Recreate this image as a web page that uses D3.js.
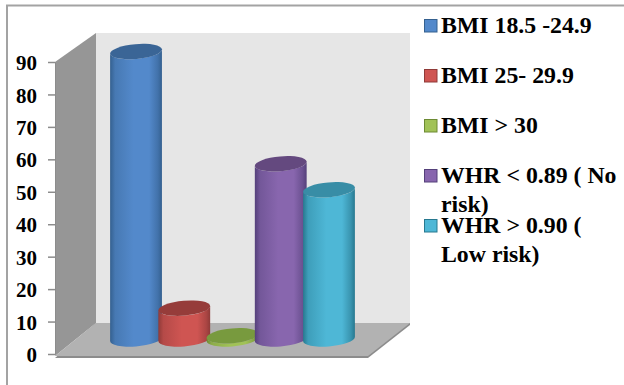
<!DOCTYPE html>
<html>
<head>
<meta charset="utf-8">
<script src="https://cdn.jsdelivr.net/npm/d3@7/dist/d3.min.js"></script>
<style>
html,body{margin:0;padding:0;background:#fff}
svg{display:block}
text{font-family:"Liberation Serif",serif;font-weight:bold;fill:#000}
</style>
</head>
<body>
<svg id="chart" width="624" height="385"></svg>
<script>
// Chart data
const categories = ["BMI 18.5 -24.9", "BMI 25- 29.9", "BMI > 30", "WHR < 0.89 ( No risk)", "WHR > 0.90 ( Low risk)"];
const values = [88.6, 9.5, 1, 54, 46];
const tickValues = [0, 10, 20, 30, 40, 50, 60, 70, 80, 90];
const legendLines = [["BMI 18.5 -24.9"], ["BMI 25- 29.9"], ["BMI > 30"], ["WHR < 0.89 ( No", "risk)"], ["WHR > 0.90 (", "Low risk)"]];
const sideColors = ["#34608f", "#8f3a38", "#6c8a33", "#54407a", "#27788f"];
const midColors = ["#5389cb", "#cf5552", "#a1c257", "#8866ae", "#4eb7d6"];
const capColors = ["#3a6596", "#963c3a", "#789a3e", "#64497f", "#388da6"];

const svg = d3.select("#chart");

// Scales: the value axis runs along the front edge of the left wall
const y = d3.scaleLinear().domain([0, 90]).range([354, 62]);
const x = d3.scaleBand().domain(categories).range([111.9, 353.1]).padding(0);

// Room geometry
const wallLeft = 55, wallBack = 96, roofBack = 33, floorFront = 356, floorBack = 323, floorRight = 410, floorFrontRight = 368;
const poly = pts => pts.map(p => p.join(",")).join(" ");

// Picture frame
svg.append("path").attr("d", "M7,385V5.5H624").attr("fill", "none").attr("stroke", "#a3a3a3").attr("stroke-width", 2);

// Back wall, left wall, floor
svg.append("polygon").attr("points", poly([[wallBack, roofBack], [floorRight, roofBack], [floorRight, floorBack], [wallBack, floorBack]])).attr("fill", "#e6e6e6");
svg.append("polygon").attr("points", poly([[wallLeft, y(90)], [wallBack, roofBack], [wallBack, floorBack], [wallLeft, floorFront]])).attr("fill", "#969696");
svg.append("polygon").attr("points", poly([[wallLeft, floorFront + 2], [floorFrontRight, floorFront + 2], [floorRight, floorBack + 2], [floorRight, floorBack], [wallBack, floorBack]])).attr("fill", "#8c8c8c");
svg.append("polygon").attr("points", poly([[wallLeft, floorFront], [floorFrontRight, floorFront], [floorRight, floorBack], [wallBack, floorBack]])).attr("fill", "#b2b2b2");

// Value axis
const axis = d3.axisLeft(y).tickValues(tickValues).tickSize(7).tickSizeOuter(0).tickPadding(11);
const axisG = svg.append("g").attr("transform", `translate(${wallLeft},0)`).call(axis);
axisG.select(".domain").attr("stroke", "#8c8c8c");
axisG.selectAll(".tick line").attr("stroke", "#8c8c8c").attr("stroke-width", 1.5);
axisG.selectAll(".tick text").style("font-size", "21px").attr("dy", "0.36em").attr("fill", "#000").attr("font-family", null);

// Shading across each cylinder
const defs = svg.append("defs");
categories.forEach((c, i) => {
  const cx = x(c) + x.bandwidth() / 2;
  const g = defs.append("linearGradient").attr("id", "cyl" + i)
    .attr("gradientUnits", "userSpaceOnUse")
    .attr("x1", cx - 26).attr("x2", cx + 26).attr("y1", 0).attr("y2", 0);
  [[0, sideColors[i]], [0.1, d3.interpolateRgb(sideColors[i], midColors[i])(0.6)], [0.45, midColors[i]], [0.75, midColors[i]], [0.92, d3.interpolateRgb(sideColors[i], midColors[i])(0.45)], [1, sideColors[i]]]
    .forEach(([o, col]) => g.append("stop").attr("offset", o).attr("stop-color", col));
});

// Cylinders stand mid-floor, so their bases sit above the axis zero
const depthLift = 15, rx = 26, ry = 7.4, tilt = -5 * Math.PI / 180;
const tx = Math.atan2(-ry * Math.sin(tilt), rx * Math.cos(tilt));
const endX = rx * Math.cos(tx) * Math.cos(tilt) - ry * Math.sin(tx) * Math.sin(tilt);
const endY = rx * Math.cos(tx) * Math.sin(tilt) + ry * Math.sin(tx) * Math.cos(tilt);
const rot = tilt * 180 / Math.PI;

const bars = svg.append("g").selectAll("g").data(categories).join("g");
bars.append("path")
  .attr("fill", (d, i) => `url(#cyl${i})`)
  .attr("d", (d, i) => {
    const cx = x(d) + x.bandwidth() / 2, top = y(values[i]) - depthLift, base = y(0) - depthLift;
    return `M${cx - endX},${top - endY}L${cx - endX},${base - endY}` +
      `A${rx},${ry} ${rot} 0 0 ${cx + endX},${base + endY}L${cx + endX},${top + endY}` +
      `A${rx},${ry} ${rot} 0 1 ${cx - endX},${top - endY}Z`;
  });
bars.append("ellipse")
  .attr("rx", rx).attr("ry", ry)
  .attr("transform", (d, i) => `translate(${x(d) + x.bandwidth() / 2},${y(values[i]) - depthLift}) rotate(${rot})`)
  .attr("fill", (d, i) => capColors[i]);

// Legend
const legendY = d3.scaleBand().domain(categories).range([25.5, 275.5]);
const legend = svg.append("g").selectAll("g").data(categories).join("g")
  .attr("transform", d => `translate(424,${legendY(d)})`);
legend.append("rect").attr("x", 0.5).attr("y", -6).attr("width", 12.5).attr("height", 12.5)
  .attr("fill", (d, i) => midColors[i]).attr("stroke", (d, i) => sideColors[i]).attr("stroke-width", 1);
legend.append("text").attr("x", 17).attr("y", 7.5).style("font-size", "23.8px")
  .selectAll("tspan").data((d, i) => legendLines[i]).join("tspan")
  .attr("x", 17).attr("dy", (d, i) => i ? 28.5 : 0).text(d => d);
</script>
</body>
</html>
